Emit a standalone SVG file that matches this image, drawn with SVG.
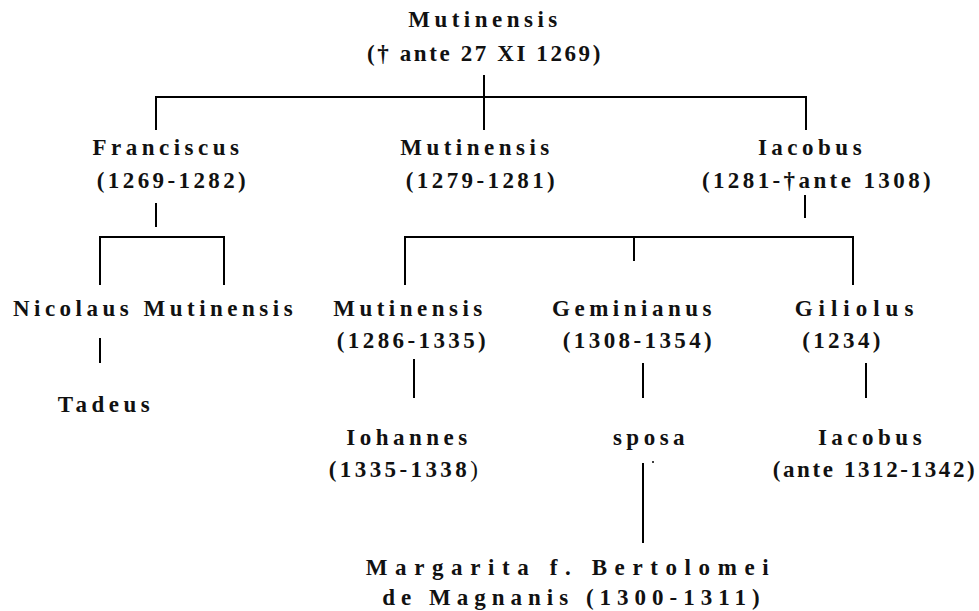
<svg xmlns="http://www.w3.org/2000/svg" width="979" height="611" viewBox="0 0 979 611">
<style>
text{font-family:"Liberation Serif","DejaVu Serif",serif;font-weight:bold;font-size:23px;letter-spacing:4.5px;text-anchor:middle;fill:#111}
text.d{letter-spacing:3.4px}
.c line{stroke:#000;stroke-width:2}
.n{font-weight:normal}
</style>
<rect width="979" height="611" fill="#fff"/>
<g class="c" id="connectors">
<line x1="484" y1="75" x2="484" y2="130"/>
<line x1="155" y1="97" x2="807" y2="97"/>
<line x1="156" y1="96" x2="156" y2="130"/>
<line x1="806" y1="96" x2="806" y2="130"/>
<line x1="156" y1="203" x2="156" y2="227"/>
<line x1="99" y1="237" x2="225" y2="237"/>
<line x1="100" y1="236" x2="100" y2="285"/>
<line x1="224" y1="236" x2="224" y2="285"/>
<line x1="805" y1="195" x2="805" y2="218"/>
<line x1="404" y1="237" x2="854" y2="237"/>
<line x1="405" y1="236" x2="405" y2="285"/>
<line x1="853" y1="236" x2="853" y2="285"/>
<line x1="634" y1="236" x2="634" y2="261"/>
<line x1="100" y1="338" x2="100" y2="363"/>
<line x1="414" y1="359" x2="414" y2="398"/>
<line x1="643" y1="363" x2="643" y2="398"/>
<line x1="866" y1="363" x2="866" y2="398"/>
<line x1="643" y1="463" x2="643" y2="543"/>
<circle cx="653" cy="462" r="1" fill="#000"/>
</g>
<g id="root"><text x="485" y="27">Mutinensis</text><text class="d" x="485" y="61" style="letter-spacing:2.6px">(† ante 27 XI 1269)</text></g>
<g id="franciscus"><text x="168" y="155">Franciscus</text><text class="d" x="173" y="188">(1269-1282)</text></g>
<g id="mutinensis2"><text x="477" y="155">Mutinensis</text><text class="d" x="482" y="188">(1279-1281)</text></g>
<g id="iacobus1"><text x="812" y="155">Iacobus</text><text class="d" x="818" y="188">(1281-†ante 1308)</text></g>
<g id="nicolaus"><text x="155" y="316">Nicolaus Mutinensis</text></g>
<g id="tadeus"><text x="106" y="412">Tadeus</text></g>
<g id="mutinensis3"><text x="410" y="316">Mutinensis</text><text class="d" x="413" y="348">(1286-1335)</text></g>
<g id="geminianus"><text x="634" y="316">Geminianus</text><text class="d" x="639" y="348">(1308-1354)</text></g>
<g id="giliolus"><text x="857" y="316" style="letter-spacing:6px">Giliolus</text><text class="d" x="843" y="348">(1234)</text></g>
<g id="iohannes"><text x="409" y="445">Iohannes</text><text class="d" x="405" y="477">(1335-1338<tspan class="n">)</tspan></text></g>
<g id="sposa"><text x="651" y="445">sposa</text></g>
<g id="iacobus2"><text x="872" y="445">Iacobus</text><text class="d" x="875" y="477" style="letter-spacing:2.6px">(ante 1312-1342)</text></g>
<g id="margarita"><text x="571" y="575" style="letter-spacing:7.6px">Margarita f. Bertolomei</text><text x="574" y="605" style="letter-spacing:6px">de Magnanis (1300-1311)</text></g>
</svg>
